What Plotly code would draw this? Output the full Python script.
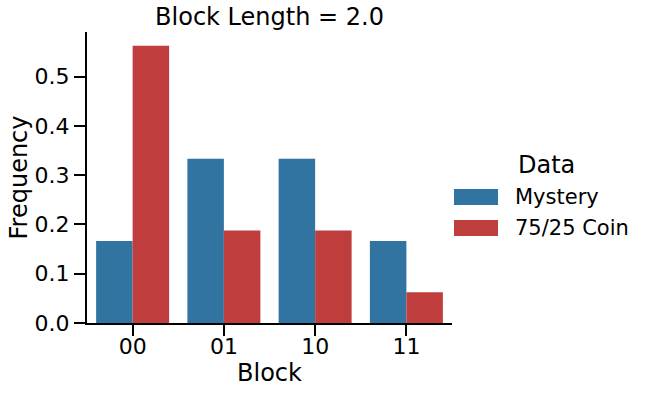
import plotly.graph_objects as go

blocks = ["00", "01", "10", "11"]
series_names = ["Mystery", "75/25 Coin"]
mystery = [1/6, 1/3, 1/3, 1/6]
coin = [0.5625, 0.1875, 0.1875, 0.0625]
colors = ["#3274a1", "#c03d3e"]
yticks = [0.0, 0.1, 0.2, 0.3, 0.4, 0.5]

FONT = "DejaVu Sans"

fig = go.Figure()
for name, vals, col in zip(series_names, [mystery, coin], colors):
    fig.add_trace(go.Bar(x=blocks, y=vals, name=name, marker=dict(color=col, line=dict(width=0)),
                         showlegend=False))

# manual legend (wide swatches like matplotlib)
fig.add_annotation(x=516, y=165, text="Data", showarrow=False,
                   font=dict(family=FONT, size=24, color="black"), xanchor="left", yanchor="middle")
legend_y = [197, 228]
for name, col, yy in zip(series_names, colors, legend_y):
    fig.add_annotation(x=513, y=yy, text=name, showarrow=False,
                       font=dict(family=FONT, size=21, color="black"), xanchor="left", yanchor="middle")
    fig.add_shape(type="rect", x0=454, x1=498, y0=yy - 8, y1=yy + 8, line=dict(width=0), fillcolor=col)

# convert legend pixel coords to paper coords
W, H = 654, 394
ml, mr, mt, mb = 87, 202, 32, 71
pw, ph = W - ml - mr, H - mt - mb
for a in fig.layout.annotations:
    a.xref = "paper"; a.yref = "paper"
    a.x = (a.x - ml) / pw
    a.y = (H - mb - a.y) / ph
for s in fig.layout.shapes:
    s.xref = "paper"; s.yref = "paper"
    s.x0 = (s.x0 - ml) / pw; s.x1 = (s.x1 - ml) / pw
    y0, y1 = s.y0, s.y1
    s.y0 = (H - mb - y1) / ph; s.y1 = (H - mb - y0) / ph

fig.update_layout(
    width=W, height=H,
    margin=dict(l=ml, r=mr, t=mt, b=mb, pad=0, autoexpand=False),
    paper_bgcolor="white", plot_bgcolor="white",
    barmode="group", bargap=0.2, bargroupgap=0,
    font=dict(family=FONT, size=22, color="black"),
    title=dict(text="Block Length = 2.0", x=(ml + pw / 2) / W, xanchor="center",
               y=1 - 17 / H, yanchor="middle", font=dict(size=24, family=FONT, color="black")),
    xaxis=dict(title=dict(text="Block", font=dict(size=24), standoff=0),
               automargin=False,
               showline=True, linecolor="black", linewidth=2,
               ticks="outside", ticklen=11, tickwidth=2, tickcolor="black",
               ticklabelstandoff=-8,
               showgrid=False, zeroline=False, range=[-0.5, 3.5],
               tickfont=dict(size=22)),
    yaxis=dict(title=dict(text="Frequency", font=dict(size=24), standoff=0),
               automargin=False,
               showline=True, linecolor="black", linewidth=2,
               ticks="outside", ticklen=11, tickwidth=2, tickcolor="black",
               showgrid=False, zeroline=False, range=[0, 0.5906],
               tickvals=yticks, ticktext=[f"{v:.1f}" for v in yticks],
               tickfont=dict(size=22)),
)

fig.write_html("out.html")
